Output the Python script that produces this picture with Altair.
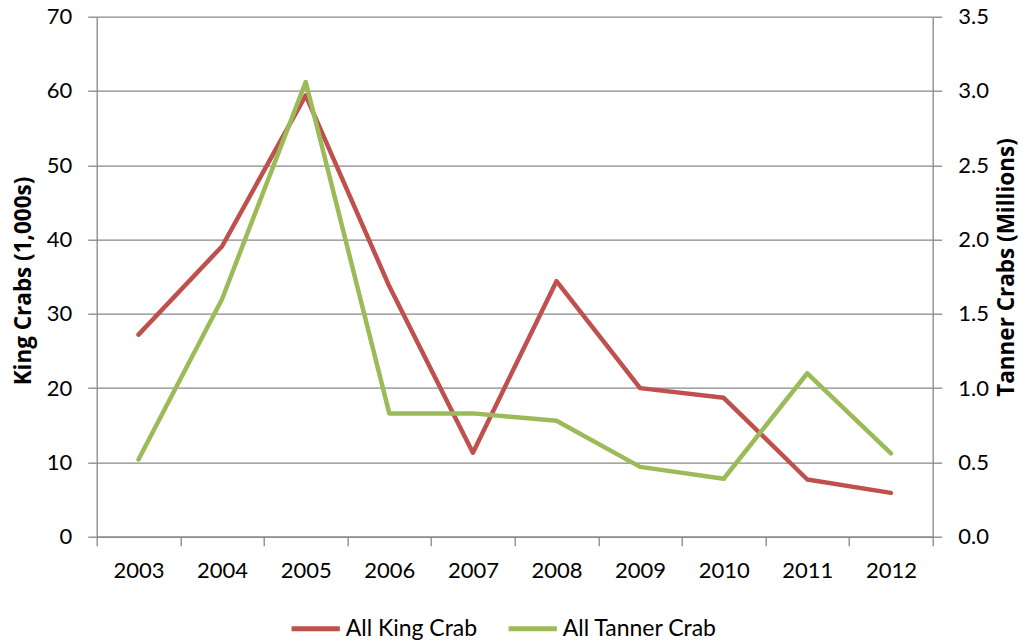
import altair as alt
import pandas as pd

years = ["2003", "2004", "2005", "2006", "2007", "2008", "2009", "2010", "2011", "2012"]
king_crab = [27.2, 39.1, 59.4, 33.7, 11.3, 34.4, 20.0, 18.7, 7.7, 5.9]          # thousands
tanner_crab = [0.52, 1.60, 3.06, 0.83, 0.83, 0.78, 0.47, 0.39, 1.10, 0.56]       # millions

series_names = ["All King Crab", "All Tanner Crab"]
series_colors = ["#C0504D", "#9BBB59"]

df = pd.DataFrame({"Year": years, "King": king_crab, "Tanner": tanner_crab})

color_enc = alt.Color(
    "series:N",
    scale=alt.Scale(domain=series_names, range=series_colors),
    legend=alt.Legend(
        title=None, orient="none", legendX=192, legendY=585,
        direction="horizontal", symbolType="stroke", symbolSize=2333,
        symbolStrokeWidth=5, labelFont="Lato", labelFontSize=23,
        labelColor="black", columnPadding=20, labelOffset=3, padding=0,
        labelLimit=400,
    ),
)

x_enc = alt.X(
    "Year:O",
    bandPosition=0.5,
    scale=alt.Scale(type="band", paddingInner=0, paddingOuter=0),
    axis=alt.Axis(title=None, labelAngle=0, tickBand="extent", grid=False,
                  labelPadding=15, tickSize=9),
)

base = alt.Chart(df)

king_line = base.transform_calculate(series="'All King Crab'").mark_line(
    strokeWidth=4.5, strokeCap="round", strokeJoin="round"
).encode(
    x=x_enc,
    y=alt.Y("King:Q", scale=alt.Scale(domain=[0, 70], nice=False),
            axis=alt.Axis(title="King Crabs (1,000s)", values=list(range(0, 71, 10)),
                          grid=True, orient="left", labelPadding=16, tickSize=9,
                          titleAngle=270, titleX=-73.5, titleY=263.8,
                          titleAlign="center", titleBaseline="middle")),
    color=color_enc,
)

tanner_line = base.transform_calculate(series="'All Tanner Crab'").mark_line(
    strokeWidth=4.5, strokeCap="round", strokeJoin="round"
).encode(
    x=x_enc,
    y=alt.Y("Tanner:Q", scale=alt.Scale(domain=[0, 3.5], nice=False),
            axis=alt.Axis(title="Tanner Crabs (Millions)", values=[0, 0.5, 1, 1.5, 2, 2.5, 3, 3.5],
                          format=".1f", grid=False, orient="right", labelPadding=16, tickSize=9,
                          titleAngle=270, titleX=74, titleY=250.3,
                          titleAlign="center", titleBaseline="middle")),
    color=color_enc,
)

chart = alt.layer(king_line, tanner_line).resolve_scale(y="independent").properties(
    width=836, height=520,
    autosize=alt.AutoSizeParams(type="none"),
    padding={"left": 88.7, "top": 8.7, "right": 90.3, "bottom": 105},
).configure_view(stroke=None).configure_axis(
    labelFont="Lato", labelFontSize=22, labelColor="black",
    titleFont="Open Sans", titleFontSize=22.5, titleFontWeight="bold", titleColor="black",
    domainColor="#878787", tickColor="#878787", gridColor="#878787",
    domainWidth=1.3, tickWidth=1.3, gridWidth=1.3,
)

chart.save("out.html", embed_options={"renderer": "svg", "actions": False})
